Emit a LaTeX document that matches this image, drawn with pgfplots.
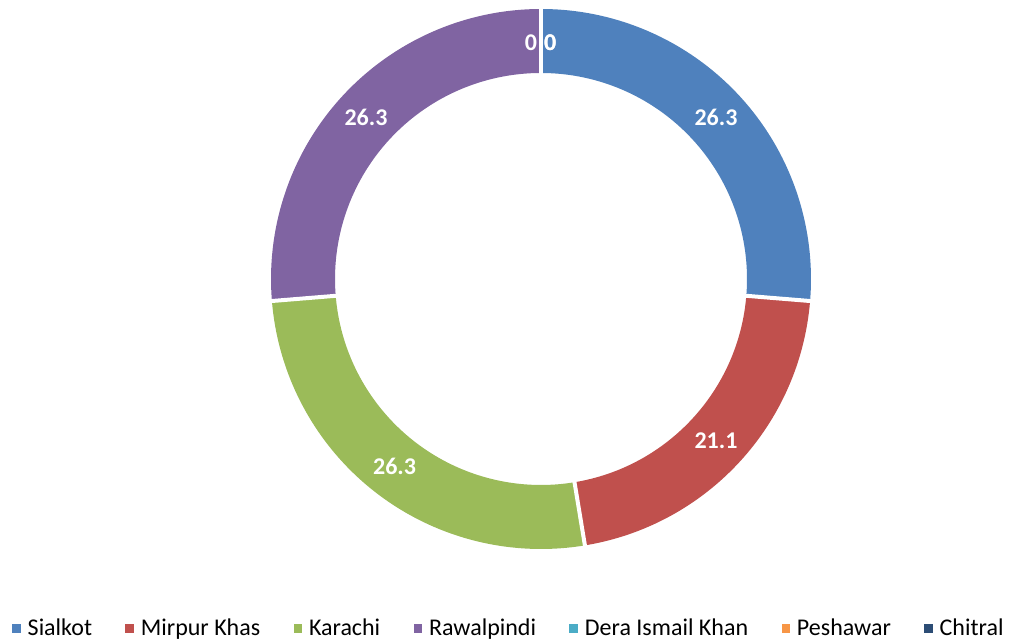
\documentclass[border=0pt]{standalone}
\usepackage{pgfplots}
\pgfplotsset{compat=1.18}
\usepackage{fontspec}
\setmainfont{Carlito}
\definecolor{cA}{HTML}{4F81BD}
\definecolor{cB}{HTML}{C0504D}
\definecolor{cC}{HTML}{9BBB59}
\definecolor{cD}{HTML}{8064A2}
\definecolor{cE}{HTML}{4BACC6}
\definecolor{cF}{HTML}{F79646}
\definecolor{cG}{HTML}{2C4D75}
\begin{document}
\begin{tikzpicture}
% values (percent)
\def\vA{26.3}% Sialkot
\def\vB{21.1}% Mirpur Khas
\def\vC{26.3}% Karachi
\def\vD{26.3}% Rawalpindi
\def\vE{0}% Dera Ismail Khan
\def\vF{0}% Peshawar
\def\vG{0}% Chitral
\pgfmathsetmacro\aA{90}
\pgfmathsetmacro\aB{\aA-3.6*\vA}
\pgfmathsetmacro\aC{\aB-3.6*\vB}
\pgfmathsetmacro\aD{\aC-3.6*\vC}
\pgfmathsetmacro\aE{\aD-3.6*\vD}
\pgfmathsetmacro\mA{(\aA+\aB)/2}
\pgfmathsetmacro\mB{(\aB+\aC)/2}
\pgfmathsetmacro\mC{(\aC+\aD)/2}
\pgfmathsetmacro\mD{(\aD+\aE)/2}
\def\Ro{202.5pt}
\def\Ri{154.5pt}
\def\Rm{178.5pt}
\begin{axis}[x=0.75pt,y=0.75pt,xmin=0,xmax=1010,ymin=0,ymax=641,
  hide axis,clip=false,enlargelimits=false,
  legend columns=7,
  legend style={at={(axis cs:12,12.5)},anchor=west,draw=none,fill=none,inner sep=0pt,
    font=\fontsize{18}{20}\selectfont,
    nodes={inner sep=0pt},
    /tikz/every odd column/.append style={column sep=5pt},
    /tikz/every even column/.append style={column sep=25pt}},
  legend image code/.code={\fill[#1,draw=none] (0pt,-3.3pt) rectangle (6.6pt,3.3pt);}]
\begin{scope}[shift={(axis cs:541,362)}]
\fill[cA] (\aA:\Ro) arc[start angle=\aA,end angle=\aB,radius=\Ro] -- (\aB:\Ri) arc[start angle=\aB,end angle=\aA,radius=\Ri] -- cycle;
\fill[cB] (\aB:\Ro) arc[start angle=\aB,end angle=\aC,radius=\Ro] -- (\aC:\Ri) arc[start angle=\aC,end angle=\aB,radius=\Ri] -- cycle;
\fill[cC] (\aC:\Ro) arc[start angle=\aC,end angle=\aD,radius=\Ro] -- (\aD:\Ri) arc[start angle=\aD,end angle=\aC,radius=\Ri] -- cycle;
\fill[cD] (\aD:\Ro) arc[start angle=\aD,end angle=\aE,radius=\Ro] -- (\aE:\Ri) arc[start angle=\aE,end angle=\aD,radius=\Ri] -- cycle;
\draw[white,line width=3pt] (\aA:150pt) -- (\aA:207pt);
\draw[white,line width=3pt] (\aB:150pt) -- (\aB:207pt);
\draw[white,line width=3pt] (\aC:150pt) -- (\aC:207pt);
\draw[white,line width=3pt] (\aD:150pt) -- (\aD:207pt);
\begin{scope}[every node/.style={text=white,font=\bfseries\fontsize{18}{18}\selectfont}]
\node at (\mA:\Rm) {26.3};
\node at (\mB:\Rm) {21.1};
\node at (\mC:\Rm) {26.3};
\node at (\mD:\Rm) {26.3};
\node at (6.9pt,177.5pt) {0};
\node at (-7.5pt,177.5pt) {0};
\node at (6.9pt,177.5pt) {0};
\end{scope}
\end{scope}
\addlegendimage{fill=cA}\addlegendentry{Sialkot}
\addlegendimage{fill=cB}\addlegendentry{Mirpur Khas}
\addlegendimage{fill=cC}\addlegendentry{Karachi}
\addlegendimage{fill=cD}\addlegendentry{Rawalpindi}
\addlegendimage{fill=cE}\addlegendentry{Dera Ismail Khan}
\addlegendimage{fill=cF}\addlegendentry{Peshawar}
\addlegendimage{fill=cG}\addlegendentry{Chitral}
\end{axis}
\pgfresetboundingbox
\path (current axis.south west) rectangle (current axis.north east);
\end{tikzpicture}
\end{document}
